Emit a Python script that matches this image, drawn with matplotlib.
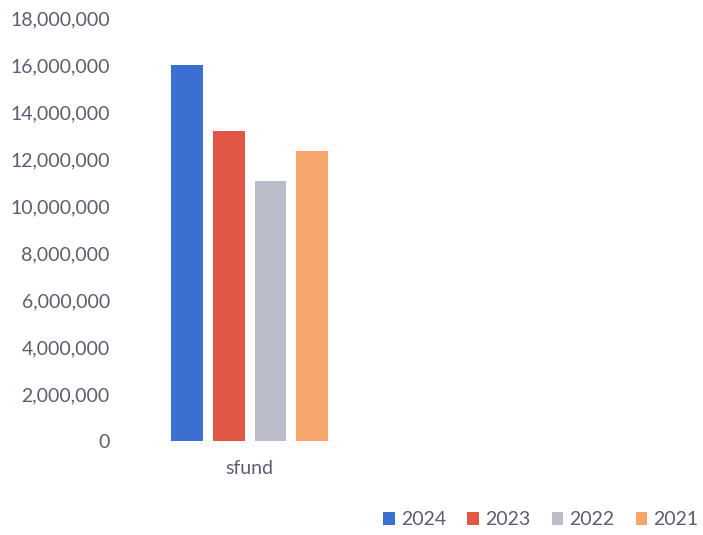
#!/usr/bin/env python3
# -*- coding: utf-8 -*-

import numpy as np
import matplotlib
matplotlib.use("Agg")
import matplotlib.pyplot as plt
from matplotlib.ticker import FuncFormatter

# data to plot
categories = ["sfund"]
years = ["2024", "2023", "2022", "2021"]
values = [16000000, 13180000, 11070000, 12340000]
colors = ["#3b6fd2", "#e05845", "#babdc9", "#f6a66c"]

plt.rcParams["font.family"] = ["Lato", "DejaVu Sans"]
text_color = "#5a5e6e"

fig = plt.figure(figsize=(7.03, 5.35), dpi=100)
ax = fig.add_axes([0.17, 0.1757, 0.82, 0.7907])

index = np.arange(len(categories))
bar_width = 0.19
step = 0.25

for i, (year, val, col) in enumerate(zip(years, values, colors)):
    ax.bar(index + (i - 1.5) * step, [val], bar_width, color=col, label=year)

ax.set_xlim(-0.78, 2.673)
ax.set_ylim(0, 18000000)
ax.set_yticks(np.arange(0, 18000001, 2000000))
ax.yaxis.set_major_formatter(FuncFormatter(lambda v, p: "{:,.0f}".format(v)))
ax.set_xticks(index)
ax.set_xticklabels(categories)

for s in ax.spines.values():
    s.set_visible(False)
ax.tick_params(axis="both", length=0, colors=text_color, labelsize=14)
ax.tick_params(axis="y", pad=7)
ax.tick_params(axis="x", pad=14)

leg = fig.legend(loc="lower right", bbox_to_anchor=(1.018, -0.02), ncol=4,
                 frameon=False, fontsize=14, handlelength=0.6, handleheight=0.6,
                 handletextpad=0.3, columnspacing=1.1)
for t in leg.get_texts():
    t.set_color(text_color)

fig.savefig("out.png", dpi=100)
